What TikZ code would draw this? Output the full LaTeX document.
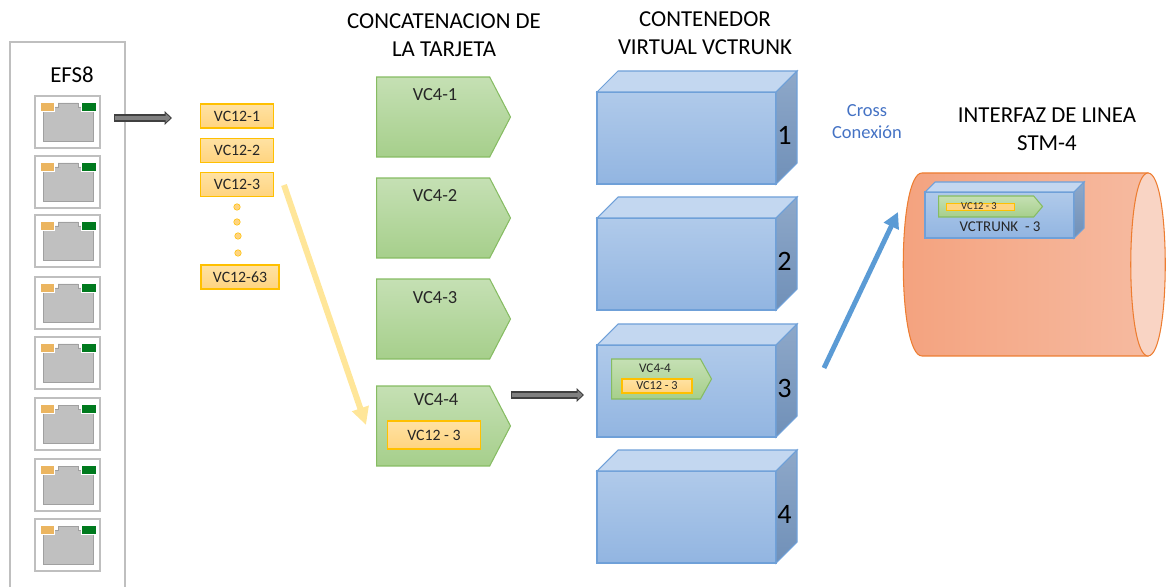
\documentclass[tikz,border=0pt]{standalone}
\usepackage{fontspec}
\setmainfont{Carlito}
\usetikzlibrary{arrows.meta, positioning, shapes.symbols}

\definecolor{ink}{HTML}{262626}
\definecolor{panelgray}{HTML}{BFBFBF}
\definecolor{bodygray}{HTML}{C0C0C0}
\definecolor{bodyedge}{HTML}{A0A0A0}
\definecolor{ledorange}{HTML}{EBB560}
\definecolor{ledgreen}{HTML}{007A1E}
\definecolor{vcorangetop}{HTML}{FFE2A3}
\definecolor{vcorangebot}{HTML}{FFD480}
\definecolor{vcorangeedge}{HTML}{FFC000}
\definecolor{vcgreentop}{HTML}{C5E0B4}
\definecolor{vcgreenbot}{HTML}{A6CF8B}
\definecolor{vcgreenedge}{HTML}{86BC62}
\definecolor{boxtop}{HTML}{B0CAEA}
\definecolor{boxbot}{HTML}{92B5E1}
\definecolor{boxlid}{HTML}{C3D7F0}
\definecolor{sidetop}{HTML}{8EA8C9}
\definecolor{sidebot}{HTML}{7090B8}
\definecolor{boxedge}{HTML}{6FA0D8}
\definecolor{arrowblue}{HTML}{5B9BD5}
\definecolor{crossblue}{HTML}{4472C4}
\definecolor{arrowyellow}{HTML}{FFE699}
\definecolor{arrowedge}{HTML}{404040}
\definecolor{arrowgray}{HTML}{808080}
\definecolor{pipeleft}{HTML}{F4A27E}
\definecolor{piperight}{HTML}{F6BAA0}
\definecolor{pipecap}{HTML}{F9D4C4}
\definecolor{pipeedge}{HTML}{ED7D31}

\begin{document}
\begin{tikzpicture}[
    x=0.02cm, y=-0.02cm, % one unit per pixel, y runs downwards
    every node/.style={text=ink},
    head/.style={align=center, text=black, font={\fontsize{13}{16}\selectfont}},
    vctwelve/.style={draw=vcorangeedge, line width=0.6pt, top color=vcorangetop, bottom color=vcorangebot,
      minimum width=1.46cm, minimum height=0.48cm, inner sep=1pt, font={\fontsize{9}{10}\selectfont}},
    vcfour/.style={signal, signal to=east, draw=vcgreenedge, line width=0.6pt,
      top color=vcgreentop, bottom color=vcgreenbot, inner sep=0pt, anchor=west},
    vclbl/.style={font={\fontsize{10.5}{12}\selectfont}},
    num/.style={font={\fontsize{16}{18}\selectfont}, text=black},
    dot/.style={circle, fill=vcorangebot, draw=vcorangeedge, line width=0.3pt, inner sep=0pt, minimum size=0.13cm},
    blockarrow/.style={draw=arrowedge, line width=4pt, -{Triangle[length=4.2pt, width=7.6pt]},
      postaction={draw=arrowgray, line width=2.6pt, -{Triangle[length=2.8pt, width=5pt]}, shorten >=0.9pt, shorten <=0.7pt}},
    pics/port/.style={code={
      \path[draw=panelgray, fill=white, line width=0.6pt] (0,0) rectangle (65,52);
      \path[draw=bodyedge, fill=bodygray, line width=0.5pt] (8,11) -- (23,11) -- (23,7) -- (43,7) -- (43,11)
        -- (58,11) -- (58,45) -- (8,45) -- cycle;
      \path[fill=ledorange, draw=white, line width=0.4pt] (5,6) rectangle (19,15);
      \path[fill=ledgreen, draw=white, line width=0.4pt] (46,6) rectangle (61,15);
      \coordinate (-e) at (65,22);
    }},
    pics/cuboid/.style n args={3}{code={
      % front, lid and side of the container
      \path[draw=boxedge, line width=0.6pt, top color=boxtop, bottom color=boxbot] (0,0) rectangle (#1,#2);
      \path[draw=boxedge, line width=0.6pt, fill=boxlid] (0,0) -- (#3,-#3) -- (#1+#3,-#3) -- (#1,0) -- cycle;
      \path[draw=boxedge, line width=0.6pt, top color=sidetop, bottom color=sidebot]
        (#1,0) -- (#1+#3,-#3) -- (#1+#3,#2-#3) -- (#1,#2) -- cycle;
      \coordinate (-num) at (#1+#3/2-2, #2/2-#3/2+8);
    }}
  ]

  \useasboundingbox (0,0) rectangle (1166,587);

  % EFS8 board with its eight ethernet ports
  \draw[panelgray, line width=0.6pt] (10,590) -- (10,42) -- (125,42) -- (125,590);
  \node[head] (efs) at (72,75) {EFS8};
  \pic (port1) at (35,96) {port};
  \pic (port2) at (35,156) {port};
  \pic (port3) at (35,215) {port};
  \pic (port4) at (35,277) {port};
  \pic (port5) at (35,337) {port};
  \pic (port6) at (35,398) {port};
  \pic (port7) at (35,459) {port};
  \pic (port8) at (35,519) {port};

  % tributaries
  \node[vctwelve] (vc12-1) at (237,116) {VC12-1};
  \node[vctwelve, below=0.18cm of vc12-1] (vc12-2) {VC12-2};
  \node[vctwelve, below=0.18cm of vc12-2] (vc12-3) {VC12-3};
  \node[dot] (d1) at (237,207) {};
  \node[dot] (d2) at (237,222) {};
  \node[dot] (d3) at (238,236) {};
  \node[dot] (d4) at (238,253) {};
  \node[vctwelve, minimum width=1.56cm] (vc12-63) at (240,277) {VC12-63};

  \coordinate (a1s) at (114,118);
  \coordinate (a1e) at (172,118);
  \draw[blockarrow] (a1s) -- (a1e);

  % card concatenation
  \node[head] (conc) at (444,35) {CONCATENACION DE\\LA TARJETA};
  \node[vcfour, signal pointer angle=125, minimum width=2.68cm, minimum height=1.6cm] (vc4-1) at (376,117) {};
  \node[vcfour, signal pointer angle=125, minimum width=2.68cm, minimum height=1.6cm] (vc4-2) at (376,218) {};
  \node[vcfour, signal pointer angle=125, minimum width=2.68cm, minimum height=1.6cm] (vc4-3) at (376,319) {};
  \node[vcfour, signal pointer angle=125, minimum width=2.68cm, minimum height=1.6cm] (vc4-4) at (376,426) {};
  \node[vclbl] (vc4-1-t) at (435,95) {VC4-1};
  \node[vclbl] (vc4-2-t) at (435,196) {VC4-2};
  \node[vclbl] (vc4-3-t) at (435,298) {VC4-3};
  \node[vclbl] (vc4-4-t) at (436,400) {VC4-4};
  \node[vctwelve, minimum width=1.86cm, minimum height=0.56cm] (vc4-4-in) at (434,435) {VC12 - 3};

  \coordinate (ys) at (284,185);
  \coordinate (ye) at (366,425);
  \draw[arrowyellow, line width=3.4pt, -{Triangle[length=10pt, width=9.5pt]}] (ys) -- (ye);

  \coordinate (a2s) at (511,395);
  \coordinate (a2e) at (584,395);
  \draw[blockarrow] (a2s) -- (a2e);

  % virtual containers
  \node[head] (cont) at (705,33) {CONTENEDOR\\VIRTUAL VCTRUNK};
  \pic (box1) at (597,92) {cuboid={179}{92}{21}};
  \pic (box2) at (597,218) {cuboid={179}{92}{21}};
  \pic (box3) at (597,345) {cuboid={179}{92}{21}};
  \pic (box4) at (597,471) {cuboid={179}{92}{21}};
  \node[num] (n1) at (box1-num) {1};
  \node[num] (n2) at (box2-num) {2};
  \node[num] (n3) at (box3-num) {3};
  \node[num] (n4) at (box4-num) {4};
  \node[vcfour, signal pointer angle=122, minimum width=2cm, minimum height=0.8cm] (b3-vc4) at (611,379) {};
  \node[font={\fontsize{7.5}{9}\selectfont}] (b3-vc4-t) at (655,368) {VC4-4};
  \node[vctwelve, minimum width=1.4cm, minimum height=0.28cm, inner sep=0pt, font={\fontsize{7}{8}\selectfont}] (b3-vc12) at (657,386) {VC12 - 3};

  % cross connection to the line side
  \node[align=center, text=crossblue, font={\fontsize{10.5}{12.5}\selectfont}] (cross) at (867,122) {Cross\\Conexión};
  \coordinate (xs) at (824,368);
  \coordinate (xe) at (898,212);
  \draw[arrowblue, line width=2.8pt, -{Triangle[length=9pt, width=9pt]}] (xs) -- (xe);

  % STM-4 line interface
  \node[head] (intf) at (1047,129) {INTERFAZ DE LINEA\\STM-4};
  \path[draw=pipeedge, line width=0.6pt, left color=pipeleft, right color=piperight]
    (922,173) -- (1148,173) -- (1148,356) -- (922,356) .. controls (897,356) and (897,173) .. (922,173) -- cycle;
  \path[draw=pipeedge, line width=0.6pt, fill=pipecap]
    (1148,173) .. controls (1171,173) and (1171,356) .. (1148,356) .. controls (1125,356) and (1125,173) .. (1148,173) -- cycle;
  \pic (trunk) at (925,192) {cuboid={149}{46}{10}};
  \node[vcfour, signal pointer angle=100, minimum width=2.08cm, minimum height=0.42cm] (trk-vc4) at (938,206.5) {};
  \node[fill=vcorangebot, draw=vcorangeedge, line width=0.4pt, minimum width=1.36cm, minimum height=0.14cm, inner sep=0pt] (trk-bar) at (980,206.5) {};
  \node[font={\fontsize{6}{7}\selectfont}, inner sep=0pt] (trk-t) at (979,206.5) {VC12 - 3};
  \node[font={\fontsize{8.5}{10}\selectfont}] (trk-name) at (1000,227) {VCTRUNK~~- 3};

\end{tikzpicture}
\end{document}
